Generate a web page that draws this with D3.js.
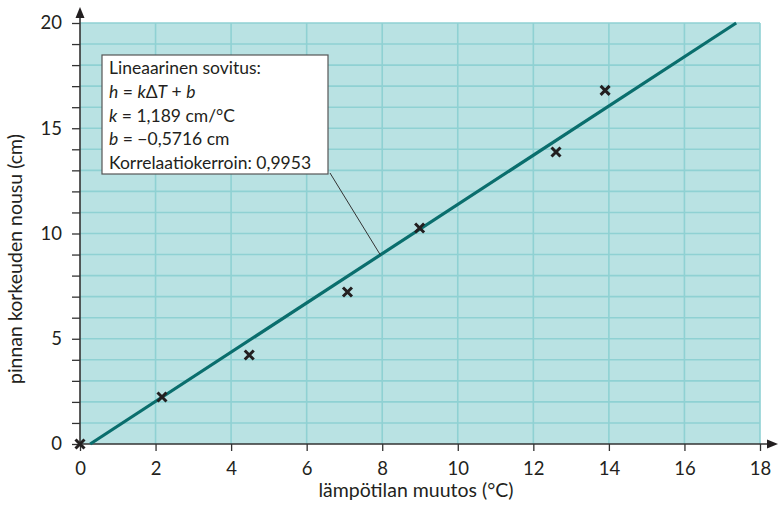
<!DOCTYPE html>
<html>
<head>
<meta charset="utf-8">
<script src="https://cdn.jsdelivr.net/npm/d3@7"></script>
<style>
  body { margin: 0; background: #fff; }
  svg { display: block; font-family: Lato, "Open Sans", sans-serif; }
</style>
</head>
<body>
<div id="graph"></div>
<script>
// measured points (temperature change vs surface rise)
var tempChange = [0, 2.17, 4.48, 7.08, 8.99, 12.6, 13.9];
var heightRise = [0, 2.23, 4.23, 7.22, 10.26, 13.87, 16.8];

// fitted line as drawn in the picture (end points)
var fitX = [0.27, 17.37];
var fitY = [0, 20];

// ticks
var xTickValues = [0, 2, 4, 6, 8, 10, 12, 14, 16, 18];
var yTickValues = [0, 5, 10, 15, 20];
var yMinorValues = d3.range(0, 21, 1);

var xLabel = "lämpötilan muutos (°C)";
var yLabel = "pinnan korkeuden nousu (cm)";

var width = 779;
var height = 511;

var x = d3.scaleLinear().domain([0, 18]).range([80, 760]);
var y = d3.scaleLinear().domain([0, 20]).range([444, 23]);

var svg = d3.select('#graph')
    .append('svg')
    .attr('width', width)
    .attr('height', height);

// plot background
svg.append('rect')
    .attr('x', x(0))
    .attr('y', y(20))
    .attr('width', x(18) - x(0))
    .attr('height', y(0) - y(20))
    .style('fill', '#b9e2e3');

// grid: horizontal every 1 cm, vertical every 2 °C
svg.append('g').selectAll('line')
    .data(yMinorValues.filter(d => d > 0))
    .enter().append('line')
    .attr('x1', x(0)).attr('x2', x(18))
    .attr('y1', d => y(d)).attr('y2', d => y(d))
    .style('stroke', '#8fd1d3')
    .style('stroke-width', 1.6);

svg.append('g').selectAll('line')
    .data(xTickValues.filter(d => d > 0))
    .enter().append('line')
    .attr('x1', d => x(d)).attr('x2', d => x(d))
    .attr('y1', y(0)).attr('y2', y(20))
    .style('stroke', '#8fd1d3')
    .style('stroke-width', 1.6);

// axes (domain drawn by hand so it can carry the arrows)
var yAxis = d3.axisLeft(y)
    .tickValues(yMinorValues)
    .tickSize(8)
    .tickSizeOuter(0)
    .tickPadding(10)
    .tickFormat(d => yTickValues.indexOf(d) >= 0 ? d : '');

var gy = svg.append('g')
    .attr('transform', 'translate(' + x(0) + ',0)')
    .call(yAxis);

var xAxis = d3.axisBottom(x)
    .tickValues(xTickValues)
    .tickSize(7)
    .tickSizeOuter(0)
    .tickPadding(11);

var gx = svg.append('g')
    .attr('transform', 'translate(0,' + y(0) + ')')
    .call(xAxis);

[gx, gy].forEach(function(g) {
    g.select('.domain').remove();
    g.selectAll('.tick line').style('stroke', '#333').style('stroke-width', 1.3);
    g.selectAll('.tick text')
        .style('font-family', 'Lato, sans-serif')
        .style('font-size', '18.5px')
        .style('fill', '#231f20');
});

// axis lines with arrow heads
svg.append('line')
    .attr('x1', x(0)).attr('x2', x(0))
    .attr('y1', y(0)).attr('y2', 14)
    .style('stroke', '#333').style('stroke-width', 1.6);
svg.append('path')
    .attr('d', 'M' + x(0) + ',7 L' + (x(0) - 4.5) + ',18 L' + (x(0) + 4.5) + ',18 Z')
    .style('fill', '#231f20');

svg.append('line')
    .attr('x1', x(0)).attr('x2', 772)
    .attr('y1', y(0)).attr('y2', y(0))
    .style('stroke', '#333').style('stroke-width', 1.6);
svg.append('path')
    .attr('d', 'M778,' + y(0) + ' L767,' + (y(0) - 4.5) + ' L767,' + (y(0) + 4.5) + ' Z')
    .style('fill', '#231f20');

// fitted line
svg.append('line')
    .attr('x1', x(fitX[0])).attr('y1', y(fitY[0]))
    .attr('x2', x(fitX[1])).attr('y2', y(fitY[1]))
    .style('stroke', '#0a6e6d')
    .style('stroke-width', 3.2);

// data markers (crosses)
var m = 4.5;
svg.append('g').selectAll('path')
    .data(tempChange)
    .enter().append('path')
    .attr('d', function(d, i) {
        var cx = x(d), cy = y(heightRise[i]);
        return 'M' + (cx - m) + ',' + (cy - m) + 'L' + (cx + m) + ',' + (cy + m) +
            'M' + (cx - m) + ',' + (cy + m) + 'L' + (cx + m) + ',' + (cy - m);
    })
    .style('stroke', '#231f20')
    .style('stroke-width', 3)
    .style('fill', 'none');

// leader line from the box to the fit line
svg.append('line')
    .attr('x1', 330).attr('y1', 173)
    .attr('x2', x(7.95)).attr('y2', y((7.95 - fitX[0]) * (fitY[1] - fitY[0]) / (fitX[1] - fitX[0])))
    .style('stroke', '#333')
    .style('stroke-width', 1);

// annotation box
svg.append('rect')
    .attr('x', 102).attr('y', 55)
    .attr('width', 226).attr('height', 119)
    .style('fill', '#fff')
    .style('stroke', '#555')
    .style('stroke-width', 1.2);

var box = svg.append('text')
    .attr('x', 109)
    .style('font-size', '17.5px')
    .style('fill', '#231f20');

var legendLines = [
    [['Lineaarinen sovitus:', false]],
    [['h', true], [' = ', false], ['k', true], ['Δ', false], ['T', true], [' + ', false], ['b', true]],
    [['k', true], [' = 1,189 cm/°C', false]],
    [['b', true], [' = −0,5716 cm', false]],
    [['Korrelaatiokerroin: 0,9953', false]]
];

legendLines.forEach(function(parts, i) {
    parts.forEach(function(p, j) {
        var t = box.append('tspan')
            .text(p[0])
            .style('font-style', p[1] ? 'italic' : 'normal');
        if (j === 0) t.attr('x', 109).attr('y', 74 + i * 23.8);
    });
});

// axis titles
svg.append('text')
    .attr('x', 416)
    .attr('y', 497)
    .attr('text-anchor', 'middle')
    .style('font-size', '19.5px')
    .style('fill', '#231f20')
    .text(xLabel);

svg.append('text')
    .attr('transform', 'translate(22,259) rotate(-90)')
    .attr('text-anchor', 'middle')
    .style('font-size', '19.5px')
    .style('fill', '#231f20')
    .text(yLabel);
</script>
</body>
</html>
